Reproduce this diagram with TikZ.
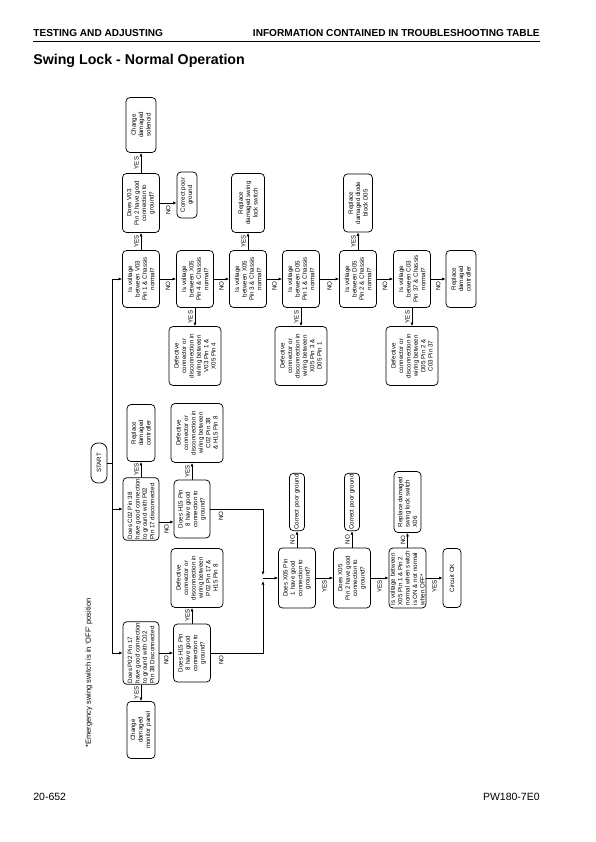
\documentclass[tikz,border=0pt]{standalone}
\usepackage{fontspec}
\setmainfont{Liberation Sans}
\usetikzlibrary{arrows.meta}
\tikzset{
  box/.style={draw, line width=0.75pt, rounded corners=4pt, rotate=90, align=center,
    inner sep=1pt, font=\fontsize{6.2}{7.4}\selectfont},
  qbox/.style={box, minimum width=57pt, minimum height=37pt},
  dbox/.style={box, minimum width=59pt, minimum height=52pt},
  rbox/.style={box, minimum width=57pt, minimum height=29pt},
  lblb/.style={rotate=90, anchor=east, inner sep=2pt, font=\fontsize{6.2}{7}\selectfont},
  lbll/.style={rotate=90, anchor=south, inner sep=2pt, font=\fontsize{6.2}{7}\selectfont},
}
\begin{document}
\begin{tikzpicture}[x=1pt, y=-1pt, >={Latex[length=3.5pt,width=3pt]}, line width=0.7pt]
  \useasboundingbox (0,0) rectangle (595,842);
  % header and footer
  \node[anchor=base west, inner sep=0pt, font=\bfseries\fontsize{10.1}{12}\selectfont] (hl) at (33,37) {TESTING AND ADJUSTING};
  \node[anchor=base east, inner sep=0pt, font=\bfseries\fontsize{10.1}{12}\selectfont] (hr) at (540,37) {INFORMATION CONTAINED IN TROUBLESHOOTING TABLE};
  \draw[line width=0.9pt] (33,41.5) -- (540,41.5);
  \node[anchor=base west, inner sep=0pt, font=\bfseries\fontsize{14.2}{16}\selectfont] (title) at (33,65) {Swing Lock - Normal Operation};
  \node[anchor=base west, inner sep=0pt, font=\fontsize{10.5}{12}\selectfont] (pg) at (33,800) {20-652};
  \node[anchor=base east, inner sep=0pt, font=\fontsize{10.5}{12}\selectfont] (doc) at (540,800) {PW180-7E0};
  \node[rotate=90, inner sep=0pt, font=\fontsize{7.5}{9}\selectfont] (note) at (89,673) {*Emergency swing switch is in `OFF' position};

  % top rows
  \node[box, minimum width=55pt, minimum height=30pt] (sol) at (141,125) {Change\\damaged\\solenoid};
  \node[qbox, minimum width=59pt] (v03g) at (141,203) {Does V03\\Pin 2 have good\\connection to\\ground?};
  \node[box, minimum width=46pt, minimum height=20pt] (cpg1) at (187,195) {Correct poor\\ground};
  \node[box, minimum width=59pt, minimum height=33pt] (swl) at (248,203) {Replace\\damaged swing\\lock switch};
  \node[box, minimum width=58pt, minimum height=29pt] (dio) at (358,203) {Replace\\damaged diode\\block D05};

  \node[qbox] (q6) at (141,279) {Is voltage\\between V03\\Pin 1 \& Chassis\\normal?};
  \node[qbox] (q7) at (195,279) {Is voltage\\between X05\\Pin 4 \& Chassis\\normal?};
  \node[qbox] (q8) at (248,279) {Is voltage\\between X05\\Pin 3 \& Chassis\\normal?};
  \node[qbox] (q9) at (301,279) {Is voltage\\between D05\\Pin 1 \& Chassis\\normal?};
  \node[qbox] (q10) at (358,279) {Is voltage\\between D05\\Pin 2 \& Chassis\\normal?};
  \node[qbox] (q11) at (412,279) {Is voltage\\between C03\\Pin 37 \& Chassis\\normal?};
  \node[rbox, minimum height=30pt] (rc1) at (461,279) {Replace\\damaged\\controller};

  \node[dbox] (d13) at (195,356) {Defective\\connector or\\disconnection in\\wiring between\\V03 Pin 1 \&\\X05 Pin 4};
  \node[dbox] (d14) at (301,356) {Defective\\connector or\\disconnection in\\wiring between\\X05 Pin 3 \&\\D05 Pin 1};
  \node[dbox] (d15) at (412,356) {Defective\\connector or\\disconnection in\\wiring between\\D05 Pin 2 \&\\C03 Pin 37};

  % left column
  \node[box, minimum width=40pt, minimum height=16pt, rounded corners=7pt] (start) at (99,463) {START};
  \node[rbox, minimum height=28pt] (rc2) at (141,433) {Replace\\damaged\\controller};
  \node[box, minimum width=60pt, minimum height=36pt, align=left] (c02) at (141,509) {Does C02 Pin 38\\have good connection\\to ground with P02\\Pin 17 disconnected};
  \node[box, minimum width=58pt, minimum height=36pt] (h15a) at (192,509) {Does H15 Pin\\8 have good\\connection to\\ground?};
  \node[dbox] (d19) at (197,433) {Defective\\connector or\\disconnection in\\wiring between\\C02 Pin 38\\\& H15 Pin 8};

  \node[box, minimum width=62pt, minimum height=36pt, align=left] (p02) at (141,653) {Does P02 Pin 17\\have good connection\\to ground with C02\\Pin 38 Disconnected};
  \node[rbox, minimum height=28pt] (mp) at (141,730) {Change\\damaged\\monitor panel};
  \node[box, minimum width=58pt, minimum height=37pt] (h15b) at (192,653) {Does H15 Pin\\8 have good\\connection to\\ground?};
  \node[dbox] (d24) at (197,578) {Defective\\connector or\\disconnection in\\wiring between\\P02 Pin 17 \&\\H15 Pin 8};

  % bottom row
  \node[qbox, minimum width=60pt] (x05a) at (297,578) {Does X05 Pin\\1 have good\\connection to\\ground?};
  \node[box, minimum width=56pt, minimum height=15pt] (cpg2) at (297,502) {Correct poor ground};
  \node[qbox, minimum width=60pt] (x05b) at (352,578) {Does X05\\Pin 2 have good\\connection to\\ground?};
  \node[box, minimum width=56pt, minimum height=15pt] (cpg3) at (352,502) {Correct poor ground};
  \node[qbox, minimum width=60pt, align=left] (sw) at (407.5,578) {Is voltage between\\X05 Pin 1 \& Pin 2\\normal when switch\\is ON \& not normal\\when OFF*};
  \node[box, minimum width=61pt, minimum height=27pt, align=left] (rsw) at (407.5,502) {Replace damaged\\swing lock switch\\X06};
  \node[box, minimum width=59pt, minimum height=18pt] (ok) at (452,578) {Circuit OK};

  % connectors
  \draw[->] (q6) -- node[lbll]{YES} (v03g);
  \draw[->] (v03g) -- node[lbll]{YES} (sol);
  \draw[->] (v03g) -- node[lblb]{NO} (v03g -| cpg1.north);
  \draw[->] (q6) -- node[lblb]{NO} (q7);
  \draw[->] (q7) -- node[lbll]{YES} (d13);
  \draw[->] (q7) -- node[lblb]{NO} (q8);
  \draw[->] (q8) -- node[lbll]{YES} (swl);
  \draw[->] (q8) -- node[lblb]{NO} (q9);
  \draw[->] (q9) -- node[lbll]{YES} (d14);
  \draw[->] (q9) -- node[lblb]{NO} (q10);
  \draw[->] (q10) -- node[lbll]{YES} (dio);
  \draw[->] (q10) -- node[lblb]{NO} (q11);
  \draw[->] (q11) -- node[lbll]{YES} (d15);
  \draw[->] (q11) -- node[lblb]{NO} (rc1);

  \coordinate (sptop) at (112,279);
  \coordinate (spbot) at (112,653);
  \draw (sptop) -- (spbot);
  \draw (start) -- (start -| sptop);
  \draw[->] (sptop) -- (q6);
  \draw[->] (c02 -| sptop) -- (c02);
  \draw[->] (spbot) -- (p02);
  \draw[->] (c02) -- node[lbll]{YES} (rc2);
  \draw[->] (c02.south |- 0,522) -- node[lblb]{NO} (h15a.north |- 0,522);
  \draw[->] (h15a) -- node[lbll]{YES} (h15a |- d19.west);
  \draw[->] (p02) -- node[lbll]{YES} (mp);
  \draw[->] (p02) -- node[lblb]{NO} (h15b);
  \draw[->] (h15b) -- node[lbll]{YES} (h15b |- d24.west);

  \coordinate (jt) at (263,575);
  \coordinate (jb) at (263,581);
  \coordinate (jn) at (263,578);
  \draw[->] (h15a) -| node[lblb, pos=0.1]{NO} (jt);
  \draw[->] (h15b) -| node[lblb, pos=0.1]{NO} (jb);
  \draw[->] (jn) -- (x05a);

  \draw[->] (x05a) -- node[lbll]{NO} (cpg2);
  \draw[->] (x05a) -- node[lblb]{YES} (x05b);
  \draw[->] (x05b) -- node[lbll]{NO} (cpg3);
  \draw[->] (x05b) -- node[lblb]{YES} (sw);
  \draw[->] (sw) -- node[lbll]{NO} (rsw);
  \draw[->] (sw) -- node[lblb]{YES} (ok);
\end{tikzpicture}
\end{document}
